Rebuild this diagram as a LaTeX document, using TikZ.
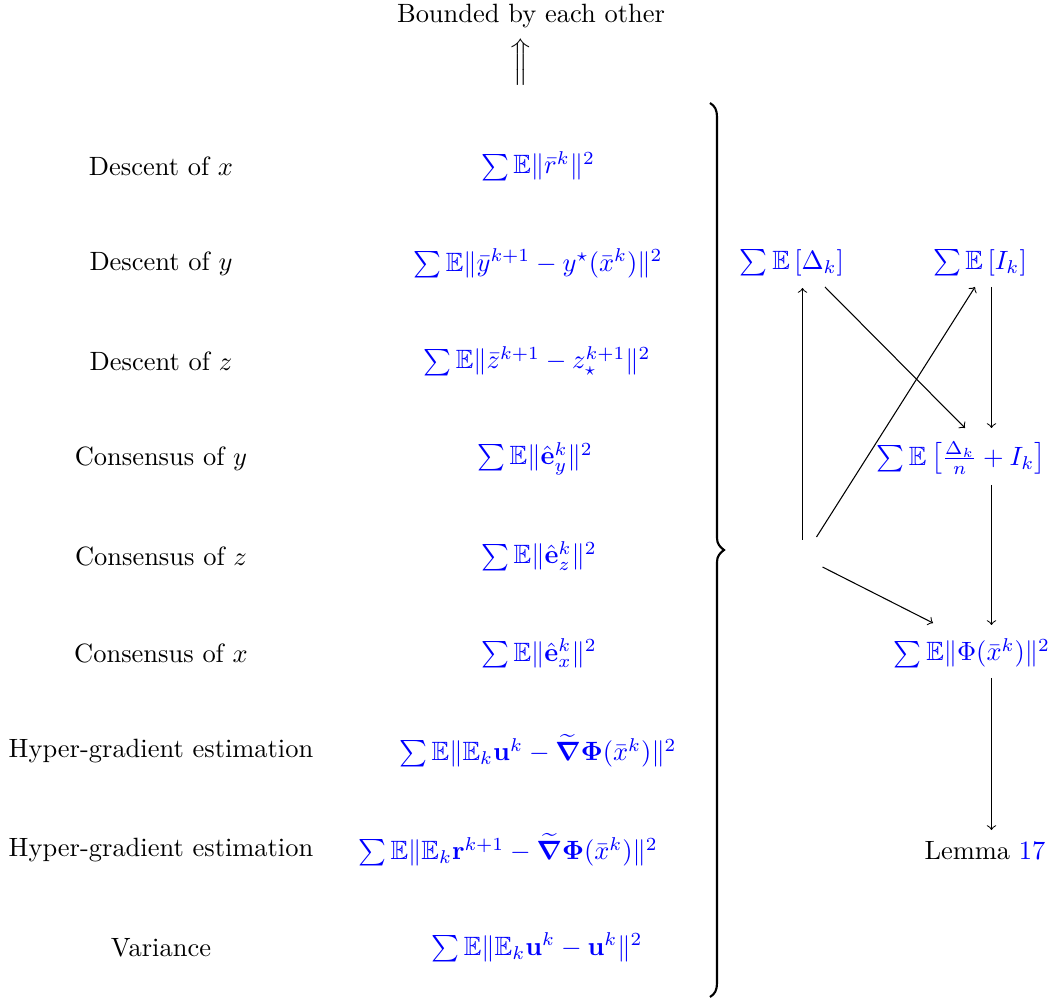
\documentclass[tikz,border=0pt]{standalone}
\usepackage{amsmath,amssymb,bm}
\usetikzlibrary{calc}
\begin{document}
\begin{tikzpicture}[x=0.378pt,y=-0.378pt,
  lbl/.style={inner sep=0pt,anchor=center},
  frm/.style={inner sep=0pt,anchor=center,text=blue},
  conn/.style={->,line width=0.4pt}]
\useasboundingbox (0,0) rectangle (1055,998);
% top
\node[lbl] (top) at (531,16) {Bounded by each other};
\node[lbl] (up) at (521,62) {$\Big\Uparrow$};
% left labels
\node[lbl] (l1) at (161,166) {Descent of $x$};
\node[lbl] (l2) at (161,263.5) {Descent of $y$};
\node[lbl] (l3) at (161,361) {Descent of $z$};
\node[lbl] (l4) at (161,458.5) {Consensus of $y$};
\node[lbl] (l5) at (161,556) {Consensus of $z$};
\node[lbl] (l6) at (161,653.5) {Consensus of $x$};
\node[lbl] (l7) at (161,751) {Hyper-gradient estimation};
\node[lbl] (l8) at (161,850) {Hyper-gradient estimation};
\node[lbl] (l9) at (161,947.5) {Variance};
% formulas
\node[frm] (f1) at (538,166) {$\sum\mathbb{E}\|\bar{r}^k\|^2$};
\node[frm] (f2) at (538,263.5) {$\sum\mathbb{E}\|\bar{y}^{k+1}-y^\star(\bar{x}^k)\|^2$};
\node[frm] (f3) at (537,361) {$\sum\mathbb{E}\|\bar{z}^{k+1}-z_\star^{k+1}\|^2$};
\node[frm] (f4) at (535,458.5) {$\sum\mathbb{E}\|\hat{\mathbf{e}}_y^k\|^2$};
\node[frm] (f5) at (539,556) {$\sum\mathbb{E}\|\hat{\mathbf{e}}_z^k\|^2$};
\node[frm] (f6) at (539,653.5) {$\sum\mathbb{E}\|\hat{\mathbf{e}}_x^k\|^2$};
\node[frm] (f7) at (538,751) {$\sum\mathbb{E}\|\mathbb{E}_k\mathbf{u}^k-\widetilde{\boldsymbol{\nabla}}\boldsymbol{\Phi}(\bar{x}^k)\|^2$};
\node[frm] (f8) at (508,850) {$\sum\mathbb{E}\|\mathbb{E}_k\mathbf{r}^{k+1}-\widetilde{\boldsymbol{\nabla}}\boldsymbol{\Phi}(\bar{x}^k)\|^2$};
\node[frm] (f9) at (537,947.5) {$\sum\mathbb{E}\|\mathbb{E}_k\mathbf{u}^k-\mathbf{u}^k\|^2$};
% brace
\draw[line width=0.8pt] (710,103) .. controls (715,106) and (717,110) .. (717,117) -- (717,538)
  .. controls (717,544) and (720,547) .. (724,550) .. controls (720,553) and (717,556) .. (717,562)
  -- (717,983) .. controls (717,990) and (715,994) .. (710,997);
% right part
\coordinate (hub) at (810.5,553);
\node[frm] (D) at (792,263) {$\sum\mathbb{E}\left[\Delta_k\right]$};
\node[frm] (I) at (980,263) {$\sum\mathbb{E}\left[I_k\right]$};
\node[frm] (M) at (961,458) {$\sum\mathbb{E}\left[\frac{\Delta_k}{n}+I_k\right]$};
\node[frm] (P) at (972,653) {$\sum\mathbb{E}\|\Phi(\bar{x}^k)\|^2$};
\node[lbl] (L) at (985,851) {Lemma \textcolor{blue}{17}};
\draw[conn] ($(hub)+(-8,-13)$) -- ($(D)+(10.5,25)$);
\draw[conn] ($(hub)+(6,-16)$) -- ($(I)+(-5,24)$);
\draw[conn] ($(hub)+(12,14)$) -- ($(P)+(-39,-30)$);
\draw[conn] ($(D)+(33,24)$) -- ($(M)+(4,-30)$);
\draw[conn] ($(I)+(11.5,24)$) -- ($(M)+(30.5,-30)$);
\draw[conn] ($(M)+(30.5,27)$) -- ($(P)+(19.5,-28)$);
\draw[conn] ($(P)+(19.5,25)$) -- ($(L)+(6.5,-21)$);
\end{tikzpicture}
\end{document}
